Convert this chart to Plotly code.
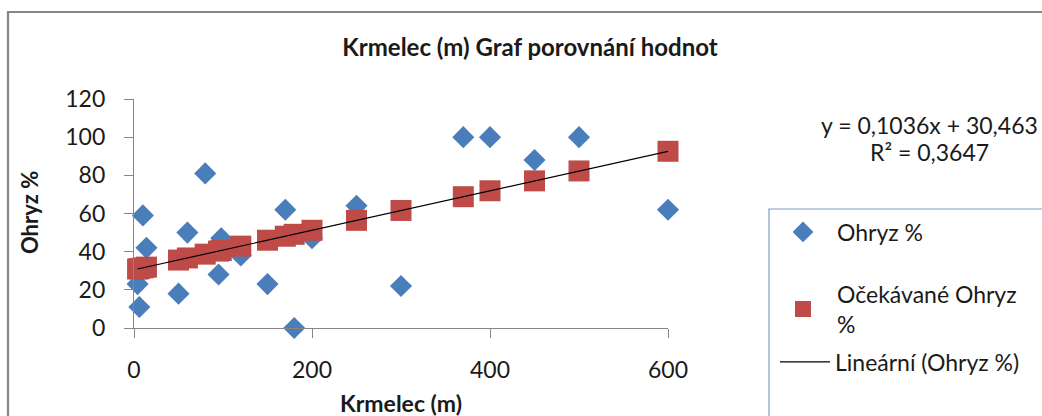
import plotly.graph_objects as go

# Data
distance_m = [4, 6, 10, 14, 50, 60, 80, 95, 98, 120, 150, 170, 180, 200, 250, 300, 370, 400, 450, 500, 600]
ohryz_pct = [23, 11, 59, 42, 18, 50, 81, 28, 47, 38, 23, 62, 0, 47, 64, 22, 100, 100, 88, 100, 62]
expected_pct = [30.9, 31.1, 31.5, 31.9, 35.6, 36.7, 38.7, 40.3, 40.6, 42.9, 46.0, 48.1, 49.1, 51.2,
                56.4, 61.6, 68.8, 71.9, 77.1, 82.3, 92.6]
trend_x = [4, 600]
trend_y = [30.9, 92.6]
x_ticks = [0, 200, 400, 600]
y_ticks = [0, 20, 40, 60, 80, 100, 120]

W, H = 1042, 416
L, R, T, B = 134, 374, 99, 88
PW, PH = W - L - R, H - T - B
FONT = "Lato"
AX = "#868686"


def px(x):
    return (x - L) / PW


def py(y):
    return (H - B - y) / PH


fig = go.Figure()
fig.add_trace(go.Scatter(
    x=distance_m, y=ohryz_pct, mode="markers", name="Ohryz %", legend="legend",
    marker=dict(symbol="diamond", size=17, color="#4A7EBB", line=dict(width=0)),
    cliponaxis=False))
fig.add_trace(go.Scatter(
    x=distance_m, y=expected_pct, mode="markers", name="Očekávané Ohryz<br>%", legend="legend2",
    marker=dict(symbol="square", size=21, color="#BE4B48", line=dict(width=0)),
    cliponaxis=False))
fig.add_trace(go.Scatter(
    x=trend_x, y=trend_y, mode="lines", name="Lineární (Ohryz %)", legend="legend3",
    line=dict(color="black", width=1.2), cliponaxis=False))

leg_common = dict(xref="paper", yref="paper", xanchor="left", yanchor="middle",
                  font=dict(size=23), bgcolor="rgba(0,0,0,0)", borderwidth=0)

fig.update_layout(
    width=W, height=H, margin=dict(l=L, r=R, t=T, b=B),
    paper_bgcolor="white", plot_bgcolor="white",
    font=dict(family=FONT, size=23, color="#1a1a1a"),
    showlegend=True,
    legend=dict(x=px(769), y=py(232), itemwidth=58, **leg_common),
    legend2=dict(x=px(769), y=py(309), itemwidth=58, **leg_common),
    legend3=dict(x=px(775), y=py(362), itemwidth=50, **leg_common),
    title=dict(text="<b>Krmelec (m) Graf porovnání hodnot</b>", x=530 / W, y=1 - 48 / H,
               xanchor="center", yanchor="middle", xref="container", yref="container",
               font=dict(size=24, family=FONT, color="#1a1a1a")),
    xaxis=dict(range=[0, 600], tickvals=x_ticks, showgrid=False, zeroline=False,
               showline=True, linecolor=AX, linewidth=1.3, ticks="outside", ticklen=9,
               tickcolor=AX, tickwidth=1.3, ticklabelstandoff=12, tickfont=dict(size=23)),
    yaxis=dict(range=[0, 120], tickvals=y_ticks, showgrid=False, zeroline=False,
               showline=True, linecolor=AX, linewidth=1.3, ticks="outside", ticklen=9,
               tickcolor=AX, tickwidth=1.3, ticklabelstandoff=14, tickfont=dict(size=23)),
    shapes=[
        dict(type="rect", xref="paper", yref="paper", x0=px(8), x1=px(1060), y0=py(12), y1=py(430),
             line=dict(color=AX, width=2.2), fillcolor="rgba(0,0,0,0)", layer="below"),
        dict(type="rect", xref="paper", yref="paper", x0=px(769), x1=px(1060), y0=py(209), y1=py(430),
             line=dict(color="#7F9CC6", width=1.2), fillcolor="rgba(0,0,0,0)", layer="below"),
    ],
    annotations=[
        dict(text="<b>Krmelec (m)</b>", xref="paper", yref="paper", x=px(401), y=py(403),
             xanchor="center", yanchor="middle", showarrow=False, font=dict(size=23)),
        dict(text="<b>Ohryz %</b>", xref="paper", yref="paper", x=px(29), y=py(213),
             xanchor="center", yanchor="middle", showarrow=False, textangle=-90, font=dict(size=22)),
        dict(text="y = 0,1036x + 30,463", xref="paper", yref="paper", x=px(929), y=py(125),
             xanchor="center", yanchor="middle", showarrow=False, font=dict(size=23)),
        dict(text="R² = 0,3647", xref="paper", yref="paper", x=px(929), y=py(152),
             xanchor="center", yanchor="middle", showarrow=False, font=dict(size=23)),
    ],
)

fig.write_html("out.html")
